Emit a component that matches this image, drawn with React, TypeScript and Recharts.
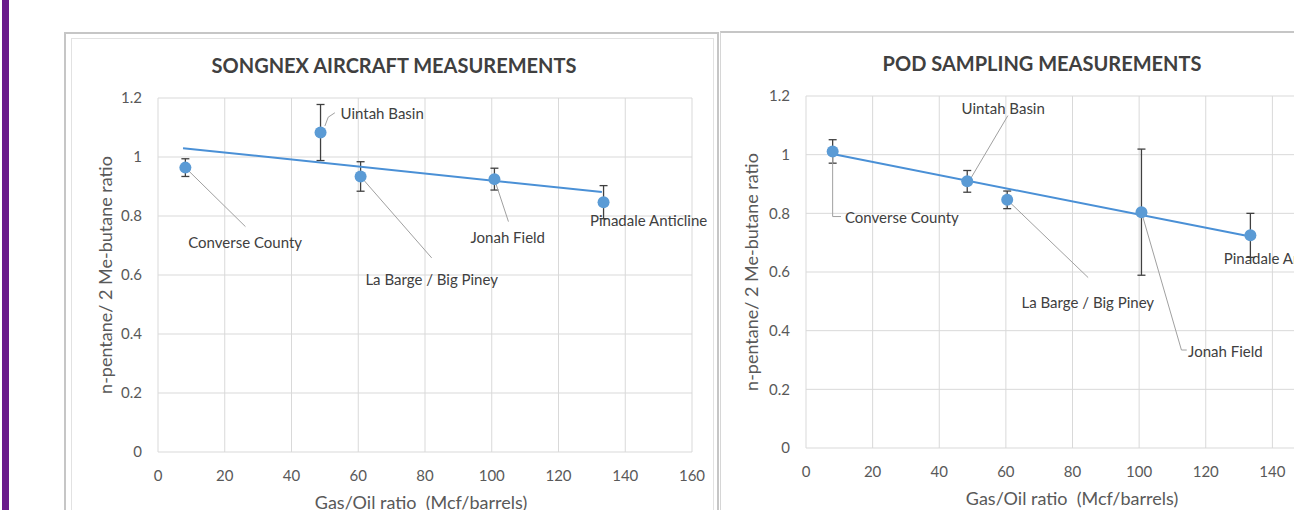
import React from 'react';
import { ScatterChart, Scatter, XAxis, YAxis, CartesianGrid, ErrorBar } from 'recharts';

// axis ticks (same for both panels)
const xTicks = [0, 20, 40, 60, 80, 100, 120, 140, 160];
const yTicks = [0, 0.2, 0.4, 0.6, 0.8, 1, 1.2];

const sites = ['Converse County', 'Uintah Basin', 'La Barge / Big Piney', 'Jonah Field', 'Pinadale Anticline'];

// SONGNEX aircraft measurements
const songnexGor = [8.2, 48.7, 60.7, 100.8, 133.5];
const songnexRatio = [0.964, 1.083, 0.934, 0.925, 0.847];
const songnexErr = [0.03, 0.095, 0.05, 0.037, 0.056];
const songnexTrend = [{ x: 7.5, y: 1.03 }, { x: 133, y: 0.881 }];

// POD sampling measurements
const podGor = [8.0, 48.4, 60.4, 100.7, 133.4];
const podRatio = [1.011, 0.909, 0.846, 0.804, 0.725];
const podErr = [0.04, 0.037, 0.03, 0.215, 0.075];
const podTrend = [{ x: 8, y: 1.002 }, { x: 133.4, y: 0.721 }];

// callout text anchors (data units) and leader lines
const songnexNotes = [
  { site: sites[0], x: 26.1, y: 0.712, anchor: 'middle' },
  { site: sites[1], x: 54.7, y: 1.149, anchor: 'start' },
  { site: sites[2], x: 82, y: 0.586, anchor: 'middle' },
  { site: sites[3], x: 104.8, y: 0.73, anchor: 'middle' },
  { site: sites[4], x: 147, y: 0.787, anchor: 'middle' },
];
const songnexLeaders = [
  [{ x: 8.2, y: 0.964 }, { x: 26.2, y: 0.764 }],
  [{ x: 50, y: 1.105 }, { x: 51, y: 1.135 }, { x: 53, y: 1.15 }],
  [{ x: 60.7, y: 0.934 }, { x: 82, y: 0.658 }],
  [{ x: 100.8, y: 0.925 }, { x: 105, y: 0.781 }],
];

const podNotes = [
  { site: sites[0], x: 11.7, y: 0.787, anchor: 'start' },
  { site: sites[1], x: 59.2, y: 1.16, anchor: 'middle' },
  { site: sites[2], x: 84.6, y: 0.499, anchor: 'middle' },
  { site: sites[3], x: 114.7, y: 0.331, anchor: 'start' },
  { site: sites[4], x: 125.4, y: 0.649, anchor: 'start' },
];
const podLeaders = [
  [{ x: 8, y: 1.011 }, { x: 8, y: 0.789 }, { x: 10.5, y: 0.789 }],
  [{ x: 49.5, y: 0.92 }, { x: 60.6, y: 1.133 }],
  [{ x: 60.4, y: 0.846 }, { x: 84.7, y: 0.581 }],
  [{ x: 100.7, y: 0.804 }, { x: 112.7, y: 0.334 }, { x: 114.3, y: 0.334 }],
];

const FONT = 'Lato, "Open Sans", sans-serif';
const BLUE = '#5B9BD5';

const Dot = (props: any) => <circle cx={props.cx} cy={props.cy} r={6} fill={BLUE} />;
const Nothing = () => <g />;
const Note = (props: any) => (
  <text
    x={props.cx}
    y={props.cy}
    textAnchor={props.payload.anchor}
    dominantBaseline="central"
    fontSize={15}
    fontFamily={FONT}
    fill="#404040"
  >
    {props.payload.site}
  </text>
);

interface PanelProps {
  gor: number[];
  ratio: number[];
  err: number[];
  trend: { x: number; y: number }[];
  notes: any[];
  leaders: { x: number; y: number }[][];
  width: number;
  margin: { top: number; right: number; left: number; bottom: number };
}

const Panel: React.FC<PanelProps> = ({ gor, ratio, err, trend, notes, leaders, width, margin }) => {
  const points = gor.map((x, i) => ({ x, y: ratio[i], err: err[i] }));
  const tick = { fill: '#595959', fontSize: 15, fontFamily: FONT };
  return (
    <ScatterChart width={width} height={478} margin={margin}>
      <CartesianGrid stroke="#d9d9d9" />
      <XAxis
        type="number"
        dataKey="x"
        domain={[0, 160]}
        ticks={xTicks}
        axisLine={false}
        tickLine={false}
        tickSize={6}
        tickMargin={12}
        height={50}
        tick={tick}
        interval={0}
      />
      <YAxis
        type="number"
        dataKey="y"
        domain={[0, 1.2]}
        ticks={yTicks}
        axisLine={false}
        tickLine={false}
        tickSize={6}
        tickMargin={10}
        width={60}
        tick={tick}
        interval={0}
        tickFormatter={(v) => String(v)}
      />
      {leaders.map((seg, i) => (
        <Scatter
          key={`lead-${i}`}
          data={seg}
          line={{ stroke: '#a0a0a0', strokeWidth: 1 }}
          lineType="joint"
          shape={Nothing}
          isAnimationActive={false}
        />
      ))}
      <Scatter
        data={trend}
        line={{ stroke: '#4A90D6', strokeWidth: 2 }}
        lineType="joint"
        shape={Nothing}
        isAnimationActive={false}
      />
      <Scatter data={points} shape={Dot} isAnimationActive={false}>
        <ErrorBar dataKey="err" direction="y" width={4} stroke="#404040" strokeWidth={1.3} />
      </Scatter>
      <Scatter data={notes} shape={Note} isAnimationActive={false} />
    </ScatterChart>
  );
};

const abs = (left: number, top: number, extra: React.CSSProperties = {}): React.CSSProperties => ({
  position: 'absolute',
  left,
  top,
  transform: 'translate(-50%, -50%)',
  whiteSpace: 'nowrap',
  fontFamily: FONT,
  color: '#595959',
  ...extra,
});

const titleStyle: React.CSSProperties = { fontSize: 20, fontWeight: 700, color: '#404040' };
const axisTitle: React.CSSProperties = { fontSize: 18 };

export default function App() {
  return (
    <div style={{ position: 'fixed', left: 0, top: 0, width: 1294, height: 510, overflow: 'hidden', background: '#fff' }}>
      <div style={{ position: 'absolute', left: 2, top: 0, width: 7, height: 510, background: '#6a1b8c' }} />

      {/* panel frames */}
      <div style={{ position: 'absolute', left: 64, top: 32, width: 655, height: 500, border: '2px solid #c6c6c6', boxSizing: 'border-box' }} />
      <div style={{ position: 'absolute', left: 71, top: 38, width: 643, height: 490, border: '1px solid #e2e2e2', boxSizing: 'border-box' }} />
      <div style={{ position: 'absolute', left: 720, top: 31, width: 700, height: 500, borderTop: '2px solid #c6c6c6', borderLeft: '1px solid #d6d6d6', boxSizing: 'border-box' }} />

      <div style={{ position: 'absolute', left: 64, top: 32 }}>
        <Panel
          gor={songnexGor}
          ratio={songnexRatio}
          err={songnexErr}
          trend={songnexTrend}
          notes={songnexNotes}
          leaders={songnexLeaders}
          width={656}
          margin={{ top: 66, right: 28, left: 34, bottom: 8 }}
        />
      </div>
      <div style={{ position: 'absolute', left: 720, top: 32 }}>
        <Panel
          gor={podGor}
          ratio={podRatio}
          err={podErr}
          trend={podTrend}
          notes={podNotes}
          leaders={podLeaders}
          width={644}
          margin={{ top: 64, right: 25, left: 26, bottom: 12 }}
        />
      </div>

      <div style={abs(394, 65, titleStyle)}>SONGNEX AIRCRAFT MEASUREMENTS</div>
      <div style={abs(1042, 63, titleStyle)}>POD SAMPLING MEASUREMENTS</div>

      <div style={abs(421, 502, axisTitle)}>Gas/Oil ratio&nbsp; (Mcf/barrels)</div>
      <div style={abs(1072, 498, axisTitle)}>Gas/Oil ratio&nbsp; (Mcf/barrels)</div>

      <div style={abs(105, 275, { ...axisTitle, transform: 'translate(-50%, -50%) rotate(-90deg)' })}>
        n-pentane/ 2 Me-butane ratio
      </div>
      <div style={abs(751, 272, { ...axisTitle, transform: 'translate(-50%, -50%) rotate(-90deg)' })}>
        n-pentane/ 2 Me-butane ratio
      </div>
    </div>
  );
}
